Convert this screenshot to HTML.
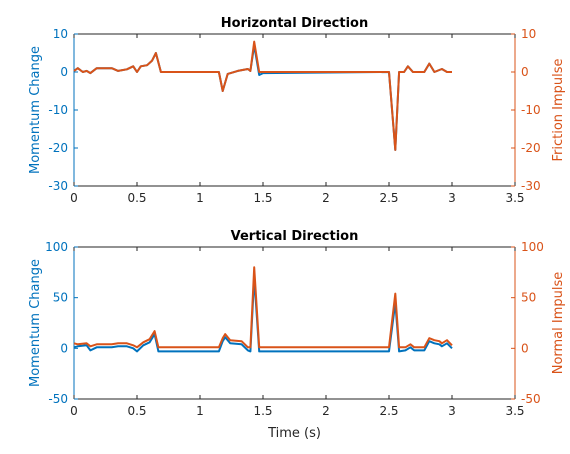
<!DOCTYPE html>
<html><head><meta charset="utf-8"><style>
body{margin:0;background:#fff;font-family:"DejaVu Sans",sans-serif}
svg text{font-family:"DejaVu Sans",sans-serif}
</style></head><body>
<svg id="c" width="570" height="450"></svg>
<script>
const tH=[0,0.03,0.07,0.1,0.13,0.18,0.3,0.35,0.42,0.47,0.5,0.53,0.58,0.62,0.65,0.69,1.15,1.18,1.22,1.25,1.3,1.38,1.4,1.43,1.47,1.5,2.5,2.55,2.58,2.62,2.65,2.69,2.78,2.82,2.86,2.92,2.96,3.0];
const hFriction=[0.3,1,0,0.3,-0.3,1,1,0.3,0.7,1.5,0,1.5,1.8,3,5,0,0,-5,-0.5,-0.2,0.3,0.8,0.3,8,0,0,0,-20.5,0,0,1.5,0,0,2.2,0,0.8,0,0];
const hMomentum=[0.3,1,0,0.3,-0.3,1,1,0.3,0.7,1.5,0,1.5,1.8,3,5,0,0,-5,-0.5,-0.2,0.3,0.8,0.3,7,-0.8,-0.3,0,-20.5,0,0,1.5,0,0,2.2,0,0.8,0,0];
const tV=[0,0.03,0.1,0.13,0.18,0.3,0.35,0.42,0.47,0.5,0.55,0.6,0.64,0.67,1.15,1.18,1.2,1.24,1.33,1.38,1.4,1.43,1.47,2.5,2.55,2.58,2.63,2.67,2.7,2.78,2.82,2.86,2.9,2.92,2.96,3.0];
const vNormal=[5,4,5,2,4,4,5,5,3,1,6,9,17,1,1,10,14,8,7,1,1,80,1,1,54,1,1,4,1,1,10,8,7,5,8,3];
const vMomentum=[1,2,3,-2,1,1,2,2,0,-3,3,6,14,-3,-3,7,11,5,4,-2,-3,70,-3,-3,45,-3,-2,1,-2,-2,7,5,4,2,5,0];
const xTicks=[0,0.5,1,1.5,2,2.5,3,3.5];
const hTicks=[-30,-20,-10,0,10];
const vTicks=[-50,0,50,100];
const NS="http://www.w3.org/2000/svg",svg=document.getElementById('c');
const BLUE="#0072bd",ORG="#d95319";
function el(tag,a,txt){const e=document.createElementNS(NS,tag);for(const k in a)e.setAttribute(k,a[k]);if(txt!==undefined)e.textContent=txt;svg.appendChild(e);return e;}
const X0=74,X1=515;
const sx=v=>X0+(v/3.5)*(X1-X0);
function panel(top,bot,ymin,ymax,ticks,title,lLab,rLab,t,sB,sO,key){
  const sy=v=>bot-(v-ymin)/(ymax-ymin)*(bot-top);
  const box=el('rect',{x:X0,y:top,width:X1-X0,height:bot-top,fill:'#fff',stroke:'none'});
  
  let l=el('line',{x1:X0,y1:top,x2:X1,y2:top,stroke:'#262626','stroke-width':1});
  l=el('line',{x1:X0,y1:bot,x2:X1,y2:bot,stroke:'#262626','stroke-width':1});
  l=el('line',{x1:X0,y1:top,x2:X0,y2:bot,stroke:BLUE,'stroke-width':1});
  l=el('line',{x1:X1,y1:top,x2:X1,y2:bot,stroke:ORG,'stroke-width':1});
  xTicks.forEach(v=>{const x=sx(v);
    let a=el('line',{x1:x,y1:bot,x2:x,y2:bot-4,stroke:'#262626'});
    a=el('line',{x1:x,y1:top,x2:x,y2:top+4,stroke:'#262626'});
    a=el('text',{x:x,y:bot+16,'font-size':12,'text-anchor':'middle',fill:'#262626'},String(v));});
  ticks.forEach(v=>{const y=sy(v);
    let a=el('line',{x1:X0,y1:y,x2:X0+4,y2:y,stroke:BLUE});
    a=el('line',{x1:X1,y1:y,x2:X1-4,y2:y,stroke:ORG});
    a=el('text',{x:X0-6,y:y+4,'font-size':12,'text-anchor':'end',fill:BLUE},String(v));
    a=el('text',{x:X1+6,y:y+4,'font-size':12,'text-anchor':'start',fill:ORG},String(v));});
  let a=el('text',{x:(X0+X1)/2,y:top-7,'font-size':13,'font-weight':'bold','text-anchor':'middle',fill:'#000'},title);
  const cy=(top+bot)/2;
  a=el('text',{x:39,y:cy,'font-size':13,'text-anchor':'middle',fill:BLUE,transform:`rotate(-90 39 ${cy})`},lLab);
  a=el('text',{x:562,y:cy,'font-size':13,'text-anchor':'middle',fill:ORG,transform:`rotate(-90 562 ${cy})`},rLab);
  const pts=s=>s.map((v,i)=>sx(t[i]).toFixed(1)+','+sy(v).toFixed(1)).join(' ');
  a=el('polyline',{points:pts(sB),fill:'none',stroke:BLUE,'stroke-width':2,'stroke-linejoin':'round'});
  a=el('polyline',{points:pts(sO),fill:'none',stroke:ORG,'stroke-width':2,'stroke-linejoin':'round'});
}
panel(34,186,-30,10,hTicks,'Horizontal Direction','Momentum Change','Friction Impulse',tH,hMomentum,hFriction,'horizontal');
panel(247,399,-50,100,vTicks,'Vertical Direction','Momentum Change','Normal Impulse',tV,vMomentum,vNormal,'vertical');
const xl=el('text',{x:(X0+X1)/2,y:437,'font-size':13,'text-anchor':'middle',fill:'#262626'},'Time (s)');


</script>
</body></html>
